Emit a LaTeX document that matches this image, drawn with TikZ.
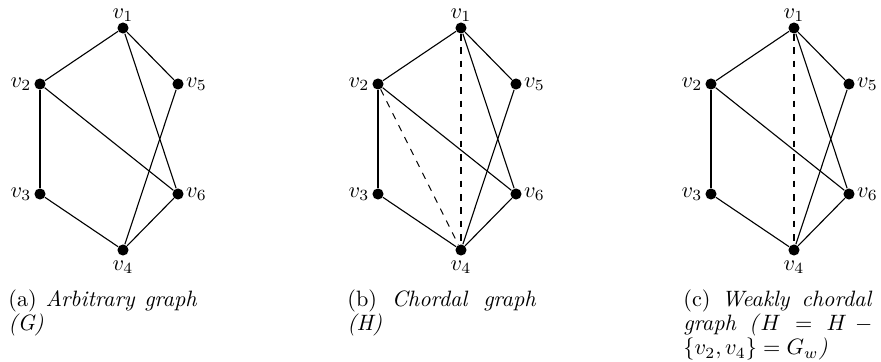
\documentclass[tikz,border=0pt]{standalone}
\begin{document}
\begin{tikzpicture}[x=0.45pt,y=-0.45pt,
  vtx/.style={circle,fill=black,inner sep=0pt,minimum size=5pt},
  edge/.style={line width=0.5pt},
  chord/.style={line width=0.5pt,dashed},
  captxt/.style={anchor=base west,inner sep=0pt}]
\useasboundingbox (0,0) rectangle (881,362);
\newcommand\graphsix[2]{%
  \node[vtx,label={[inner sep=0pt,label distance=0pt]above:$v_1$}] (#1v1) at (123+#2,28) {};
  \node[vtx,label={[inner sep=0pt,label distance=1pt]left:$v_2$}] (#1v2) at (40+#2,84) {};
  \node[vtx,label={[inner sep=0pt,label distance=1pt]left:$v_3$}] (#1v3) at (40+#2,194) {};
  \node[vtx,label={[inner sep=0pt,label distance=2pt]below:$v_4$}] (#1v4) at (123+#2,250) {};
  \node[vtx,label={[inner sep=0pt,label distance=0.8pt]right:$v_5$}] (#1v5) at (178+#2,84) {};
  \node[vtx,label={[inner sep=0pt,label distance=0.8pt]right:$v_6$}] (#1v6) at (178+#2,194) {};
  \draw[edge] (#1v1) -- (#1v2);
  \draw[edge] (#1v1) -- (#1v5);
  \draw[edge] (#1v1) -- (#1v6);
  \draw[edge] (#1v2) -- (#1v3);
  \draw[edge] (#1v2) -- (#1v6);
  \draw[edge] (#1v3) -- (#1v4);
  \draw[edge] (#1v4) -- (#1v5);
  \draw[edge] (#1v4) -- (#1v6);
}
\graphsix{a}{0}
\graphsix{b}{338}
\graphsix{c}{671}
\draw[chord] (bv1) -- (bv4);
\draw[chord] (bv2) -- (bv4);
\draw[chord] (cv1) -- (cv4);
\node[captxt] (capa) at (8,306) {\parbox[t]{85pt}{\baselineskip=11pt (a) \textit{Arbitrary graph}\linebreak\textit{(G)}}};
\node[captxt] (capb) at (347,306) {\parbox[t]{85pt}{\baselineskip=11pt (b) \textit{Chordal graph}\linebreak\textit{(H)}}};
\node[captxt] (capc) at (683,306) {\parbox[t]{85pt}{\baselineskip=11pt (c) \textit{Weakly chordal}\linebreak\textit{graph (}$H = H - \penalty-10000 \{v_2, v_4\} = G_w$\textit{)}}};
\end{tikzpicture}
\end{document}
